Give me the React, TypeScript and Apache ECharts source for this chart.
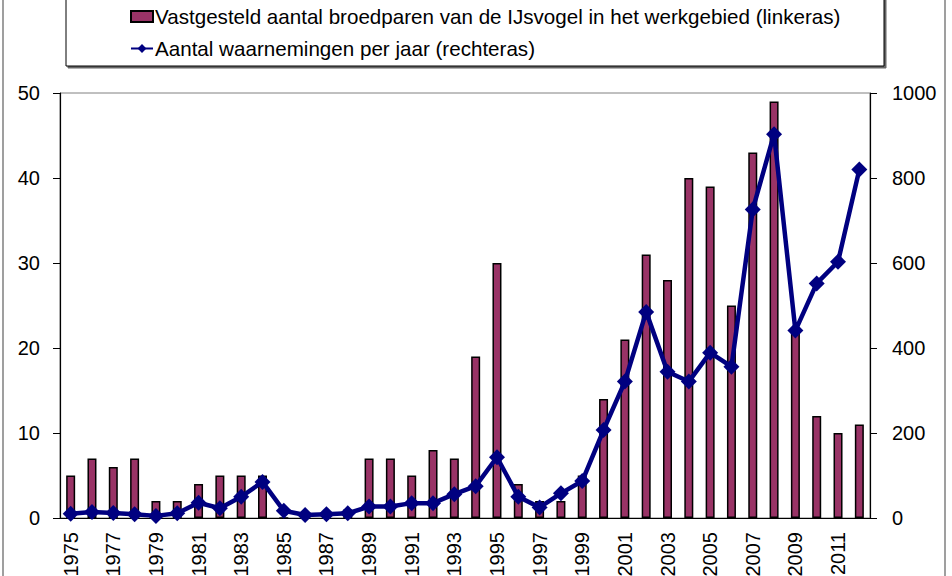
import React, { useEffect, useRef } from "react";
import * as echarts from "echarts";

const years = [
  "1975","1976","1977","1978","1979","1980","1981","1982","1983","1984",
  "1985","1986","1987","1988","1989","1990","1991","1992","1993","1994",
  "1995","1996","1997","1998","1999","2000","2001","2002","2003","2004",
  "2005","2006","2007","2008","2009","2010","2011","2012",
];
const broedparen = [
  5, 7, 6, 7, 2, 2, 4, 5, 5, 5,
  0, 0, 0, 1, 7, 7, 5, 8, 7, 19,
  30, 4, 2, 2, 5, 14, 21, 31, 28, 40,
  39, 25, 43, 49, 22, 12, 10, 11,
];
const waarnemingen = [
  10, 14, 12, 9, 5, 11, 36, 23, 50, 85,
  17, 7, 9, 11, 27, 27, 35, 35, 56, 75,
  143, 50, 25, 58, 87, 207, 321, 485, 344, 321,
  389, 356, 726, 903, 441, 552, 603, 820,
];
const barName = "Vastgesteld aantal broedparen van de IJsvogel in het werkgebied (linkeras)";
const lineName = "Aantal waarnemingen per jaar (rechteras)";

const FONT = "'Liberation Sans', Arial, sans-serif";

export default function App() {
  const ref = useRef<HTMLDivElement>(null);
  useEffect(() => {
    if (!ref.current) return;
    const chart = echarts.init(ref.current, null, { renderer: "svg" });
    chart.setOption({
      animation: false,
      backgroundColor: "#fff",
      textStyle: { fontFamily: FONT, color: "#000" },
      graphic: [
        {
          type: "rect",
          shape: { x: 3, y: -5, width: 942, height: 600 },
          style: { fill: "none", stroke: "#808080", lineWidth: 1.5 },
          silent: true,
          z: -10,
        },
        {
          type: "rect",
          shape: { x: 66, y: -10, width: 818, height: 76 },
          style: {
            fill: "#fff",
            stroke: "#000",
            lineWidth: 1,
            shadowColor: "rgba(0,0,0,0.6)",
            shadowOffsetX: 2,
            shadowOffsetY: 2,
            shadowBlur: 1,
          },
          silent: true,
          z: -5,
        },
      ],
      legend: {
        orient: "vertical",
        left: 125,
        top: 1,
        itemWidth: 22,
        itemHeight: 11,
        itemGap: 11,
        textStyle: { fontSize: 20.6, color: "#000", fontFamily: FONT, padding: [0, 0, 0, -3] },
        data: [
          { name: barName, icon: "rect" },
          { name: lineName },
        ],
      },
      grid: {
        left: 60,
        right: 82,
        top: 93,
        bottom: 58,
        containLabel: false,
        outerBoundsMode: "none",
        show: true,
        borderColor: "#808080",
        borderWidth: 1,
      },
      xAxis: {
        type: "category",
        data: years,
        boundaryGap: true,
        axisLine: { lineStyle: { color: "#000", width: 1.2 } },
        axisTick: { interval: 0, length: 6, lineStyle: { color: "#000" } },
        axisLabel: {
          interval: 1,
          rotate: 90,
          fontSize: 20,
          color: "#000",
          fontFamily: FONT,
          margin: 14,
        },
      },
      yAxis: [
        {
          type: "value",
          min: 0,
          max: 50,
          interval: 10,
          position: "left",
          axisLine: { show: true, lineStyle: { color: "#000", width: 1.2 } },
          axisTick: { show: true, length: 7, lineStyle: { color: "#000" } },
          splitLine: { show: false },
          axisLabel: { fontSize: 20, color: "#000", fontFamily: FONT, margin: 20 },
        },
        {
          type: "value",
          min: 0,
          max: 1000,
          interval: 200,
          position: "right",
          axisLine: { show: true, lineStyle: { color: "#000", width: 1.2 } },
          axisTick: { show: true, length: 7, lineStyle: { color: "#000" } },
          splitLine: { show: false },
          axisLabel: {
            fontSize: 20,
            color: "#000",
            fontFamily: FONT,
            margin: 22,
            formatter: (v: number) => String(v),
          },
        },
      ],
      series: [
        {
          name: barName,
          type: "bar",
          yAxisIndex: 0,
          data: broedparen,
          barWidth: 9,
          itemStyle: { color: "#993366", borderColor: "#000", borderWidth: 1.5 },
          z: 2,
        },
        {
          name: lineName,
          type: "line",
          yAxisIndex: 1,
          data: waarnemingen,
          symbol: "diamond",
          symbolSize: 16,
          showAllSymbol: true,
          lineStyle: { color: "#000080", width: 4.5 },
          itemStyle: { color: "#000080" },
          z: 3,
        },
      ],
    });
    return () => chart.dispose();
  }, []);
  return <div ref={ref} style={{ width: 952, height: 576, position: "fixed", left: 0, top: 0 }} />;
}
